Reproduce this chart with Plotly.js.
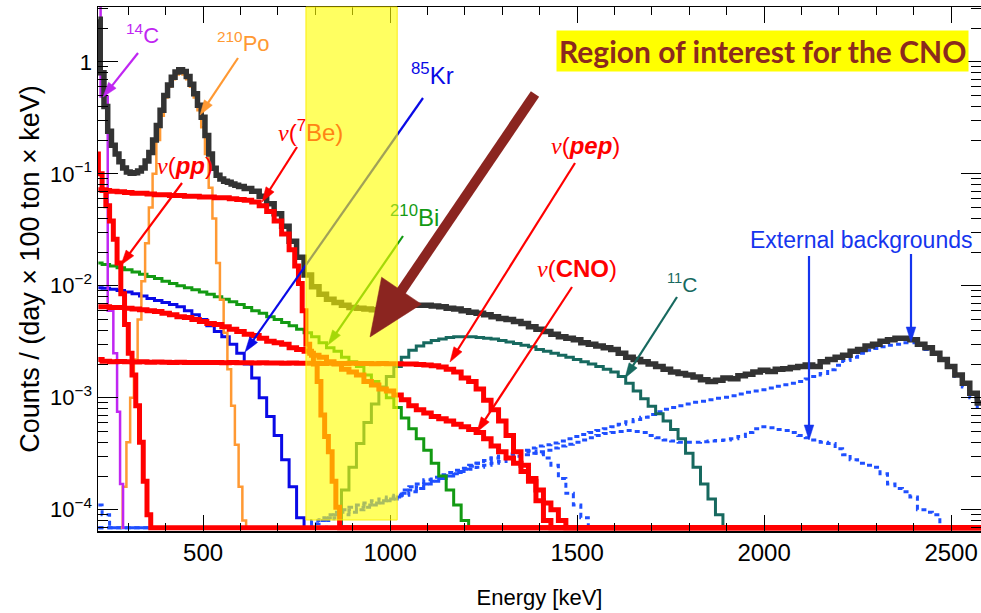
<!DOCTYPE html>
<html><head><meta charset="utf-8">
<script src="https://cdn.plot.ly/plotly-3.0.1.min.js"></script>
<style>html,body{margin:0;padding:0;background:#fff;}#chart{width:981px;height:613px;}</style>
</head><body><div id="chart"></div>
<script>
function grid(start, stop, step){const o=[];for(let e=start;e<=stop+1e-9;e+=step)o.push(e);return o;}

// ---------------- DATA (energy in keV, counts / (day x 100 ton x keV)); 0 = empty bin
const totalE = grid(220,600,10).concat(grid(620,2580,20));
const total = [
 2.4,0.8,0.4,0.24,0.18,0.15,0.128,0.113,0.104,0.101,
 0.102,0.106,0.113,0.13,0.155,0.2,0.27,0.37,0.5,0.62,
 0.73,0.81,0.85,0.82,0.74,0.63,0.52,0.41,0.32,0.22,
 0.15,0.112,0.097,0.09,0.086,0.084,0.081,0.079,0.077,
 0.074,0.07,0.063,0.054,0.044,0.034,0.025,0.018,0.0125,0.0098,
 0.0084,0.0076,0.0071,0.0067,0.0064,0.0063,0.0062,0.0061,0.0062,0.0063,
 0.0065,0.0066,0.0067,0.0067,0.0067,0.0066,0.0065,0.0063,0.0062,0.006,
 0.0058,0.0057,0.0055,0.0053,0.0051,0.005,0.0048,0.0046,0.0043,0.0041,
 0.0039,0.0037,0.0035,0.0034,0.0033,0.0031,0.003,0.0029,0.0028,0.0027,
 0.0025,0.0023,0.0022,0.0021,0.002,0.0019,0.0018,0.0017,0.00165,0.0016,
 0.00153,0.00145,0.0014,0.00143,0.0015,0.00148,0.00157,0.00162,0.0017,0.00176,
 0.00172,0.0018,0.00182,0.00186,0.0019,0.00196,0.0019,0.0021,0.0022,0.0023,
 0.0024,0.0026,0.0027,0.0029,0.003,0.0032,0.0033,0.0034,0.0034,0.0033,
 0.003,0.0028,0.0025,0.0022,0.0019,0.0016,0.00135,0.0011,0.0009];

const c14E = [216,236,254,266,274,282,290];
const c14  = [8,0.49,0.006,0.0025,7.5e-4,1.7e-4,0];

const ppE = grid(215,365,10).concat([2600]);
const pp  = [0.15,0.1,0.072,0.052,0.038,0.026,0.016,0.0085,0.0045,0.0025,0.0016,8.5e-4,4e-4,1.8e-4,9e-5,0,0];

const be7E = grid(220,740,20).concat(grid(750,870,10),[2600]);
const be7  = [
 0.072,0.071,0.07,0.069,0.068,0.067,0.067,0.066,0.065,0.065,
 0.064,0.064,0.063,0.063,0.062,0.062,0.061,0.061,0.06,0.059,
 0.058,0.056,0.052,0.046,0.038,0.029,0.021,
 0.015,0.0105,0.006,0.003,0.0025,0.002,0.0014,7e-4,4.5e-4,3.3e-4,1.8e-4,1.05e-4,0,
 0];

const po210E = grid(280,620,10);
const po210  = [
 0,1.6e-4,4e-4,1e-3,2.2e-3,5e-3,0.011,0.024,0.05,0.1,
 0.2,0.33,0.48,0.6,0.7,0.77,0.8,0.77,0.7,0.6,
 0.48,0.37,0.26,0.15,0.075,0.04,0.016,0.0075,0.0038,0.0018,
 8.5e-4,3.8e-4,1.6e-4,8e-5,0];

const kr85E = grid(220,780,20);
const kr85  = [
 0.0096,0.0095,0.0093,0.0091,0.0088,0.0085,0.0081,0.0077,0.0074,0.0071,
 0.0068,0.0065,0.006,0.0055,0.005,0.0044,0.0039,0.0035,0.003,0.0025,
 0.002,0.0015,0.001,6.8e-4,4.6e-4,2.8e-4,1.6e-4,8.5e-5,0];

const bi210E = grid(220,1220,20);
const bi210  = [
 0.016,0.0155,0.015,0.0145,0.0139,0.0133,0.0127,0.0121,0.0116,0.011,
 0.0105,0.01,0.0096,0.0092,0.0088,0.0084,0.008,0.0076,0.0072,0.0068,
 0.0064,0.006,0.0057,0.0053,0.005,0.0047,0.0044,0.0041,0.0038,0.0035,
 0.0031,0.0028,0.0026,0.0023,0.0021,0.0019,0.0016,0.0014,0.0012,0.001,
 8.2e-4,6.6e-4,5.3e-4,4.3e-4,3.4e-4,2.6e-4,2e-4,1.5e-4,1.1e-4,8e-5,
 0];

const cnoE = grid(220,1480,20).concat([2600]);
const cno  = [
 0.0065,0.0065,0.0064,0.0064,0.0063,0.0062,0.0061,0.006,0.0059,0.0057,
 0.0055,0.0053,0.0052,0.005,0.0048,0.0046,0.0045,0.0043,0.0041,0.0039,
 0.0037,0.0036,0.0034,0.0032,0.0031,0.003,0.0028,0.0027,0.0026,0.0024,
 0.0023,0.0021,0.002,0.0018,0.0017,0.0016,0.0014,0.0013,0.0012,0.00115,
 0.00106,9.6e-4,8.5e-4,7.8e-4,7.3e-4,6.8e-4,6.5e-4,6.2e-4,5.8e-4,5.5e-4,
 5.2e-4,4.9e-4,4.3e-4,3.7e-4,3.3e-4,2.9e-4,2.6e-4,2.2e-4,1.9e-4,1.5e-4,
 1.15e-4,1e-4,8e-5,0,
 0];

const pepE = grid(220,1440,20).concat([2600]);
const pep  = [
 0.0022,0.00212,0.0021,0.00211,0.0021,0.00209,0.0021,0.00208,0.00209,0.00208,
 0.00207,0.00208,0.00207,0.00206,0.00207,0.00206,0.00206,0.00205,0.00206,0.00205,
 0.00205,0.00204,0.00205,0.00204,0.00204,0.00203,0.00204,0.00203,0.00203,0.00203,
 0.00202,0.00203,0.00202,0.00202,0.00203,0.00202,0.00202,0.00201,0.00202,0.00201,
 0.00201,0.002,0.002,0.00198,0.00196,0.00193,0.00188,0.0018,0.0017,0.0015,
 0.0014,0.0012,9.5e-4,7.8e-4,6.2e-4,4.6e-4,3.3e-4,2.5e-4,1.8e-4,1.2e-4,
 8e-5,0,
 0];

const c11E = grid(860,1900,20);
const c11  = [
 0,1.5e-4,2.4e-4,3.9e-4,6e-4,8.8e-4,1.25e-3,1.55e-3,1.9e-3,2.3e-3,
 2.65e-3,2.9e-3,3.1e-3,3.25e-3,3.35e-3,3.45e-3,3.5e-3,3.5e-3,3.5e-3,3.45e-3,
 3.4e-3,3.35e-3,3.25e-3,3.15e-3,3.05e-3,2.95e-3,2.85e-3,2.7e-3,2.6e-3,2.5e-3,
 2.4e-3,2.3e-3,2.2e-3,2.1e-3,2.0e-3,1.9e-3,1.8e-3,1.7e-3,1.55e-3,1.35e-3,
 1.15e-3,9.8e-4,8.4e-4,7.2e-4,6.2e-4,5.2e-4,4.3e-4,3.2e-4,2.4e-4,1.7e-4,
 1.25e-4,9e-5,0];

const extAE = grid(220,2580,20);
const extA  = [
 0,0,0,0,0,0,0,0,0,0, 0,0,0,0,0,0,0,0,0,0, 0,0,0,0,0,0,0,0,0,
 8e-5,8.5e-5,9e-5,9.5e-5,1e-4,1.05e-4,1.1e-4,1.15e-4,1.2e-4,1.25e-4,
 1.3e-4,1.35e-4,1.5e-4,1.6e-4,1.7e-4,1.85e-4,1.95e-4,2.05e-4,2.15e-4,2.25e-4,
 2.35e-4,2.5e-4,2.6e-4,2.75e-4,2.9e-4,3e-4,3.15e-4,3.3e-4,3.4e-4,3.55e-4,
 3.7e-4,3.8e-4,3.95e-4,4.1e-4,4.3e-4,4.5e-4,4.7e-4,4.9e-4,5.1e-4,5.3e-4,
 5.5e-4,5.8e-4,6.1e-4,6.4e-4,6.7e-4,7.1e-4,7.5e-4,7.9e-4,8.2e-4,8.5e-4,
 8.8e-4,9.1e-4,9.3e-4,9.6e-4,9.9e-4,1.01e-3,1.04e-3,1.08e-3,1.12e-3,1.15e-3,
 1.18e-3,1.22e-3,1.27e-3,1.31e-3,1.35e-3,1.4e-3,1.47e-3,1.55e-3,1.65e-3,1.78e-3,
 1.95e-3,2.15e-3,2.3e-3,2.5e-3,2.65e-3,2.75e-3,2.85e-3,2.95e-3,3.0e-3,3.1e-3,
 3.1e-3,2.95e-3,2.7e-3,2.45e-3,2.2e-3,1.9e-3,1.55e-3,1.25e-3,1.0e-3,8.2e-4];

const extBE = grid(220,2480,20);
const extB  = [
 1.1e-4,9e-5,
 0,0,0,0,0,0,0,0,0,0, 0,0,0,0,0,0,0,0,0,0, 0,0,0,0,0,0,0,
 7.5e-5,8e-5,8.5e-5,9e-5,9.5e-5,1e-4,1.05e-4,1.1e-4,1.15e-4,1.2e-4,
 1.25e-4,1.3e-4,1.4e-4,1.5e-4,1.6e-4,1.7e-4,1.8e-4,1.9e-4,2e-4,2.1e-4,
 2.2e-4,2.3e-4,2.4e-4,2.5e-4,2.6e-4,2.7e-4,2.85e-4,3e-4,3.1e-4,3.2e-4,
 3.3e-4,3.4e-4,3.55e-4,3.7e-4,3.85e-4,4e-4,4.2e-4,4.4e-4,4.6e-4,4.8e-4,
 4.9e-4,5e-4,5.1e-4,5e-4,4.9e-4,4.6e-4,4.4e-4,4.2e-4,4.1e-4,4e-4,
 4e-4,4e-4,4.05e-4,4.1e-4,4.15e-4,4.2e-4,4.3e-4,4.5e-4,4.9e-4,5.3e-4,
 5.5e-4,5.4e-4,5.2e-4,5.1e-4,4.9e-4,4.6e-4,4.4e-4,4.2e-4,4e-4,3.9e-4,
 3.5e-4,3.1e-4,2.8e-4,2.6e-4,2.5e-4,2.4e-4,2.1e-4,1.7e-4,1.55e-4,1.45e-4,
 1.3e-4,1e-4,9.5e-5,9e-5,
 0];

const extCE = grid(220,1540,20);
const extC  = [
 0,0,0,0,0,0,0,0,0,0, 0,0,0,0,0,0,0,0,0,0, 0,0,0,0,0,0,0,0,0,0, 0,
 8e-5,8.5e-5,9e-5,9.5e-5,1e-4,1.05e-4,1.1e-4,1.15e-4,1.2e-4,1.25e-4,
 1.35e-4,1.45e-4,1.55e-4,1.7e-4,1.8e-4,1.9e-4,2e-4,2.15e-4,2.3e-4,2.45e-4,
 2.6e-4,2.75e-4,2.9e-4,3e-4,3.1e-4,3.2e-4,3.3e-4,3.35e-4,3.2e-4,2.9e-4,
 2.5e-4,1.9e-4,1.4e-4,1.1e-4,8.5e-5,
 0];

// region of interest for CNO (keV)
const roi = [775, 1019];
const xRange = [219, 2580];
const yRangeLog = [-4.19, 0.49];
const yTickVals = [1e-4, 1e-3, 1e-2, 1e-1, 1];
const yTickText = ['10<sup>−4</sup>', '10<sup>−3</sup>', '10<sup>−2</sup>', '10<sup>−1</sup>', '1'];

// ---------------- STYLE
const FONT = 'Liberation Sans, Arial, Helvetica, sans-serif';
const FLOOR = Math.pow(10, -4.16);
const C = {total:'#333333', red:'#ff0000', c14:'#c026f2', po:'#ff9933', kr:'#0a0ae6',
  bi:'#139a13', c11:'#17695f', ext:'#1f4fff', extTxt:'#1535ee', brown:'#8b2520', roiTxt:'#8b2a1e',
  beTint:'#ff8414', biTint:'#8fcf1a'};

function hist(name, E, V, color, width, dash){
  if (E.length !== V.length) throw new Error(name+' length '+E.length+' vs '+V.length);
  return {type:'scatter', mode:'lines', name, x:E, y:V.map(v => v > 0 ? v : FLOOR),
    line:{color, width, shape:'hvh', dash: dash || 'solid'}, hoverinfo:'skip', showlegend:false};
}
const dotted = '5px,4px';
const traces = [
  hist('extA', extAE, extA, C.ext, 3, dotted),
  hist('extB', extBE, extB, C.ext, 3, dotted),
  hist('extC', extCE, extC, C.ext, 3, dotted),
  hist('11C', c11E, c11, C.c11, 3),
  hist('85Kr', kr85E, kr85, C.kr, 3),
  hist('210Bi', bi210E, bi210, C.bi, 3),
  hist('210Po', po210E, po210, C.po, 2.5),
  hist('14C', c14E, c14, C.c14, 2.5),
  hist('total', totalE, total, C.total, 5.5),
  hist('pp', ppE, pp, C.red, 5),
  hist('7Be', be7E, be7, C.red, 5),
  hist('CNO', cnoE, cno, C.red, 5),
  hist('pep', pepE, pep, C.red, 5)
];

// ---------------- LABELS & ARROWS (positions in pixels of the figure)
const PL=98, PR=981, PT=7, PB=531;
const toPaper = (X,Y) => [(X-PL)/(PR-PL), (PB-Y)/(PB-PT)];
function txt(text, X, Y, color, size, extra){
  const [x,y] = toPaper(X,Y);
  return Object.assign({xref:'paper', yref:'paper', x, y, xanchor:'center', yanchor:'middle',
    text, showarrow:false, font:{family:FONT, size, color}}, extra || {});
}
// arrow = shaft line + filled triangular head, both as layout shapes
function arrowShapes(tX,tY,hX,hY,color,width,headLen,headHalf){
  const dx=hX-tX, dy=hY-tY, len=Math.hypot(dx,dy), ux=dx/len, uy=dy/len, nx=-uy, ny=ux;
  const bx=hX-headLen*ux, by=hY-headLen*uy;
  const sx=hX-(headLen-2)*ux, sy=hY-(headLen-2)*uy;
  const [x0,y0]=toPaper(tX,tY), [x1,y1]=toPaper(sx,sy);
  const p1=toPaper(hX,hY), p2=toPaper(bx+headHalf*nx, by+headHalf*ny), p3=toPaper(bx-headHalf*nx, by-headHalf*ny);
  return [
    {type:'line', xref:'paper', yref:'paper', x0, y0, x1, y1, line:{color, width}, layer:'above'},
    {type:'path', xref:'paper', yref:'paper', path:`M${p1[0]},${p1[1]} L${p2[0]},${p2[1]} L${p3[0]},${p3[1]} Z`,
     fillcolor:color, line:{color, width:0.5}, layer:'above'}
  ];
}
const NU = '<span style="font-family:\'Liberation Serif\',serif"><i>ν</i></span>';

const annotations = [
  txt('<sup>14</sup>C', 142, 34, C.c14, 22),
  txt('<sup>210</sup>Po', 243, 42, C.po, 22),
  txt(NU+'(<b><i>pp</i></b>)', 185, 165, C.red, 24),
  txt(NU+'(<sup>7</sup><span style="color:'+C.beTint+'">Be)</span>', 310, 131, C.red, 24),
  txt('<sup>85</sup>Kr', 432, 74, C.kr, 24),
  txt('<span style="color:'+C.biTint+'"><sup>2</sup></span><sup>10</sup>Bi', 414, 216, C.bi, 24),
  txt(NU+'(<b><i>pep</i></b>)', 585, 145, C.red, 24),
  txt(NU+'(<b>CNO</b>)', 577, 268, C.red, 24),
  txt('<sup>11</sup>C', 682, 283, C.c11, 21),
  txt('External backgrounds', 861, 240, C.extTxt, 23),
  txt('<b>Region of interest for the CNO</b>', 762, 51, C.roiTxt, 30,
      {bgcolor:'#ffff00', borderpad:2, font:{family:'Lato, Open Sans, sans-serif', size:30, color:C.roiTxt}})
];

const smallArrows = [
  [138,53,103,97,C.c14], [238,58,200,115,C.po], [182,183,121,265,C.red], [297,147,262,202,C.red],
  [423,98,245,352,C.kr], [403,236,328,345,C.bi], [575,163,450,362,C.red], [572,287,477,432,C.red],
  [677,297,625,378,C.c11], [809,256,809,440,C.extTxt], [911,254,911,342,C.extTxt]
];
const shapes = [];
smallArrows.forEach(a => shapes.push(...arrowShapes(a[0],a[1],a[2],a[3],a[4],2.2,15,4.8)));
shapes.push({type:'rect', xref:'x', yref:'paper', x0:roi[0], x1:roi[1], y0:toPaper(0,520)[1], y1:1,
   fillcolor:'rgba(255,255,0,0.62)', line:{color:'rgba(250,235,0,0.9)', width:1}, layer:'above'});
shapes.push(...arrowShapes(535,94,370,337,C.brown,10,56,24));

const axisCommon = {showline:true, linecolor:'#000', linewidth:1.5, mirror:'ticks', ticks:'inside',
  tickcolor:'#000', showgrid:false, zeroline:false};
const layout = {
  width:981, height:613, margin:{l:98, r:0, t:7, b:82},
  paper_bgcolor:'#fff', plot_bgcolor:'#fff', font:{family:FONT, color:'#000'},
  showlegend:false,
  xaxis: Object.assign({}, axisCommon, {range:xRange, dtick:500, tick0:0, ticklen:16,
    minor:{ticks:'inside', ticklen:8, dtick:100, tickcolor:'#000', showgrid:false},
    tickfont:{size:24, family:FONT}, title:{text:'Energy [keV]', font:{size:22, family:FONT}, standoff:24}}),
  yaxis: Object.assign({}, axisCommon, {type:'log', range:yRangeLog, tickvals:yTickVals, ticktext:yTickText, ticklen:20,
    minor:{ticks:'inside', ticklen:10, dtick:'D1', tickcolor:'#000', showgrid:false},
    tickfont:{size:22, family:FONT}, title:{text:'Counts / (day × 100 ton × keV)', font:{size:27, family:FONT}, standoff:2}}),
  annotations, shapes
};
Plotly.newPlot('chart', traces, layout, {displayModeBar:false, staticPlot:true});
</script></body></html>
